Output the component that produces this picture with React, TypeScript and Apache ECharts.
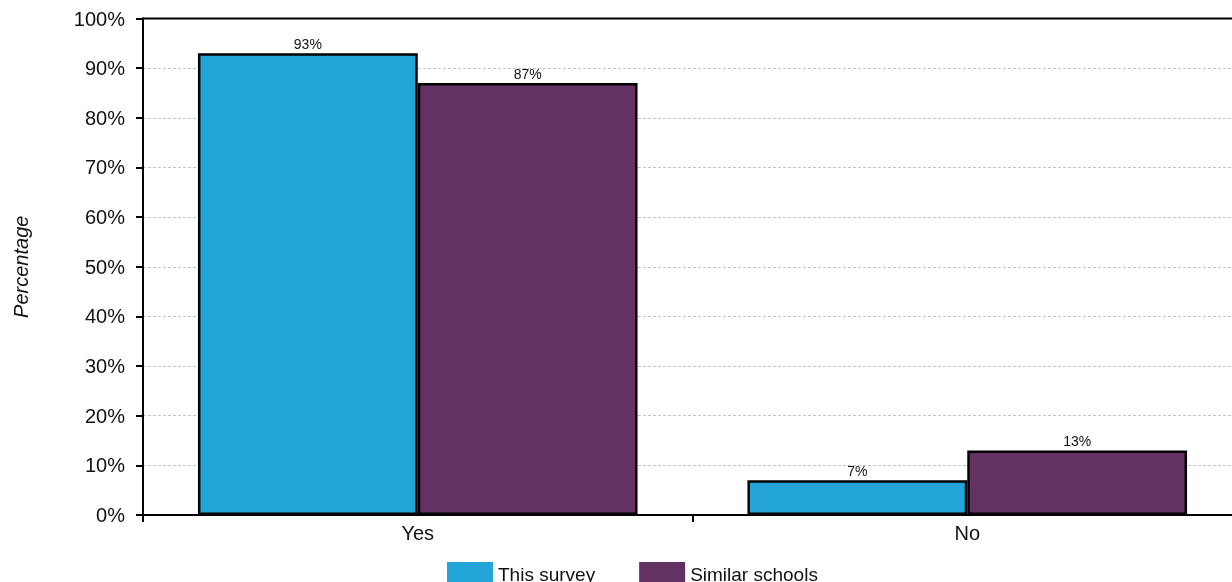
import React, { useEffect, useRef } from "react";
import * as echarts from "echarts";

const categories = ["Yes", "No"];
const thisSurvey = [93, 7];
const similarSchools = [87, 13];
const seriesNames = ["This survey", "Similar schools"];
const yTicks = { min: 0, max: 100, interval: 10 };

const FONT = "'Liberation Sans', Arial, sans-serif";

export default function App() {
  const ref = useRef<HTMLDivElement>(null);
  useEffect(() => {
    document.body.style.overflow = "hidden";
    document.documentElement.style.overflow = "hidden";
    const chart = echarts.init(ref.current!, null, { renderer: "svg" });
    const barLabel = {
      show: true,
      position: "top" as const,
      distance: 2,
      formatter: "{c}%",
      fontSize: 14,
      fontFamily: FONT,
      color: "#111",
    };
    chart.setOption({
      animation: false,
      textStyle: { fontFamily: FONT },
      grid: {
        left: 143,
        top: 18.5,
        width: 1099,
        height: 496.5,
        show: true,
        borderColor: "#000",
        borderWidth: 2,
        backgroundColor: "transparent",
        outerBoundsMode: "none",
      },
      legend: {
        left: 447,
        top: 562,
        padding: 0,
        itemWidth: 46,
        itemHeight: 24,
        itemGap: 44,
        icon: "rect",
        itemStyle: { borderWidth: 0 },
        textStyle: { fontSize: 19, fontFamily: FONT, color: "#111" },
        data: seriesNames,
      },
      xAxis: {
        type: "category",
        data: categories,
        axisLine: { lineStyle: { color: "#000", width: 2 } },
        axisTick: { show: true, length: 7, lineStyle: { color: "#000", width: 2 } },
        axisLabel: { fontSize: 20, fontFamily: FONT, color: "#111", margin: 8 },
      },
      yAxis: {
        type: "value",
        min: yTicks.min,
        max: yTicks.max,
        interval: yTicks.interval,
        name: "Percentage",
        nameLocation: "middle",
        nameGap: 112,
        nameTextStyle: { fontSize: 20, fontStyle: "italic", fontFamily: FONT, color: "#111" },
        axisLine: { show: true, lineStyle: { color: "#000", width: 2 } },
        axisTick: { show: true, length: 7, lineStyle: { color: "#000", width: 2 } },
        axisLabel: { formatter: "{value}%", fontSize: 20, fontFamily: FONT, color: "#111", margin: 18 },
        splitLine: {
          show: true,
          showMinLine: false,
          showMaxLine: false,
          lineStyle: { color: "#c4c4c4", width: 1, type: [3, 2] },
        },
      },
      series: [
        {
          name: seriesNames[0],
          type: "bar",
          data: thisSurvey,
          barGap: "0%",
          barCategoryGap: "20%",
          itemStyle: { color: "#23A5D9", borderColor: "#000", borderWidth: 2.5 },
          label: barLabel,
        },
        {
          name: seriesNames[1],
          type: "bar",
          data: similarSchools,
          barGap: "0%",
          barCategoryGap: "20%",
          itemStyle: { color: "#633262", borderColor: "#000", borderWidth: 2.5 },
          label: barLabel,
        },
      ],
    });
    return () => chart.dispose();
  }, []);
  return (
    <div
      ref={ref}
      style={{ position: "fixed", left: 0, top: 0, width: 1250, height: 582 }}
    />
  );
}
